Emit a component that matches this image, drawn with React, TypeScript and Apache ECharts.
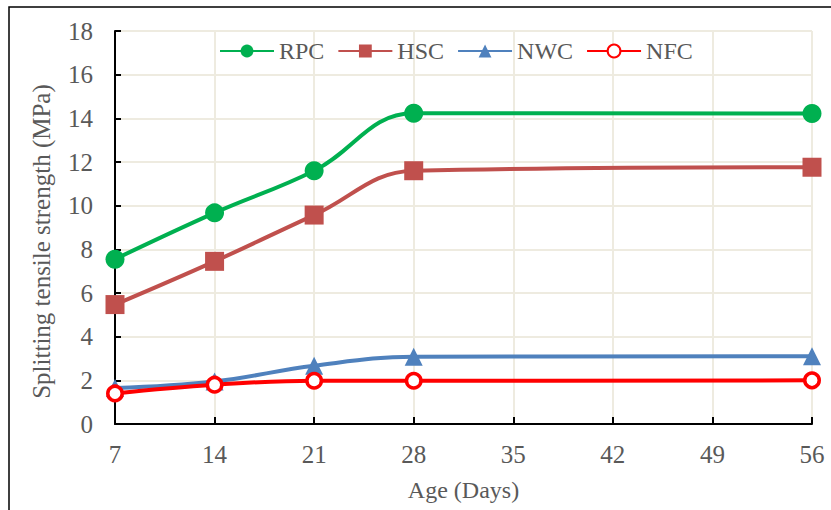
import React, { useEffect, useRef } from "react";
import * as echarts from "echarts";

const days = [7, 14, 21, 28, 56];
const rpc = [7.55, 9.67, 11.6, 14.23, 14.22];
const hsc = [5.47, 7.45, 9.57, 11.6, 11.76];
const nwc = [1.65, 1.95, 2.67, 3.08, 3.1];
const nfc = [1.4, 1.8, 1.98, 1.98, 2.0];
const seriesNames = ["RPC", "HSC", "NWC", "NFC"];

const FONT = "Liberation Serif";
const TXT = "#595959";
const GRID = "#EEEBE0";

export default function App() {
  const ref = useRef<HTMLDivElement>(null);
  useEffect(() => {
    document.body.style.margin = "0";
    const chart = echarts.init(ref.current!, null, { renderer: "svg" });
    const mk = (arr: number[]) => days.map((d, i) => [d, arr[i]]);
    chart.setOption({
      animation: false,
      backgroundColor: "#fff",
      textStyle: { fontFamily: FONT },
      graphic: [
        {
          type: "rect",
          shape: { x: 9, y: 7, width: 900, height: 600 },
          style: { fill: "none", stroke: "#000", lineWidth: 1.5 },
          silent: true,
        },
      ],
      legend: {
        top: 34,
        left: 214,
        itemWidth: 54,
        itemHeight: 16,
        itemGap: 13,
        textStyle: { fontFamily: FONT, fontSize: 24, color: TXT },
        data: seriesNames,
      },
      grid: { left: 115, right: 19, top: 31, bottom: 86 },
      xAxis: {
        type: "value",
        min: 7,
        max: 56,
        interval: 7,
        name: "Age (Days)",
        nameLocation: "middle",
        nameGap: 54,
        nameTextStyle: { fontFamily: FONT, fontSize: 24, color: TXT },
        axisLine: { lineStyle: { color: "#000", width: 2 } },
        axisTick: { inside: true, length: 7, lineStyle: { color: "#000", width: 2 } },
        axisLabel: { fontFamily: FONT, fontSize: 25, color: TXT, margin: 18 },
        splitLine: { show: true, lineStyle: { color: GRID, width: 2 } },
      },
      yAxis: {
        type: "value",
        min: 0,
        max: 18,
        interval: 2,
        name: "Splitting tensile strength (MPa)",
        nameLocation: "middle",
        nameGap: 61,
        nameTextStyle: { fontFamily: FONT, fontSize: 25, color: TXT, padding: [0, 28, 0, 0] },
        axisLine: { show: true, lineStyle: { color: "#000", width: 2 } },
        axisTick: { show: true, inside: true, length: 6, lineStyle: { color: "#000", width: 2 } },
        axisLabel: { fontFamily: FONT, fontSize: 25, color: TXT, margin: 22 },
        splitLine: { show: true, lineStyle: { color: GRID, width: 2 } },
      },
      series: [
        {
          name: "RPC",
          type: "line",
          smooth: 0.4,
          data: mk(rpc),
          symbol: "circle",
          symbolSize: 19,
          lineStyle: { color: "#00B050", width: 4 },
          itemStyle: { color: "#00B050" },
        },
        {
          name: "HSC",
          type: "line",
          smooth: 0.4,
          data: mk(hsc),
          symbol: "rect",
          symbolSize: 19,
          lineStyle: { color: "#C0504D", width: 4 },
          itemStyle: { color: "#C0504D" },
        },
        {
          name: "NWC",
          type: "line",
          smooth: 0.4,
          data: mk(nwc),
          symbol: "triangle",
          symbolSize: 18,
          lineStyle: { color: "#4F81BD", width: 4 },
          itemStyle: { color: "#4F81BD" },
        },
        {
          name: "NFC",
          type: "line",
          smooth: 0.4,
          data: mk(nfc),
          symbol: "circle",
          symbolSize: 14.5,
          lineStyle: { color: "#FF0000", width: 4 },
          itemStyle: { color: "#FFFFFF", borderColor: "#FF0000", borderWidth: 3.5 },
        },
      ],
    });
    return () => chart.dispose();
  }, []);
  return <div ref={ref} style={{ width: 831, height: 510 }} />;
}
